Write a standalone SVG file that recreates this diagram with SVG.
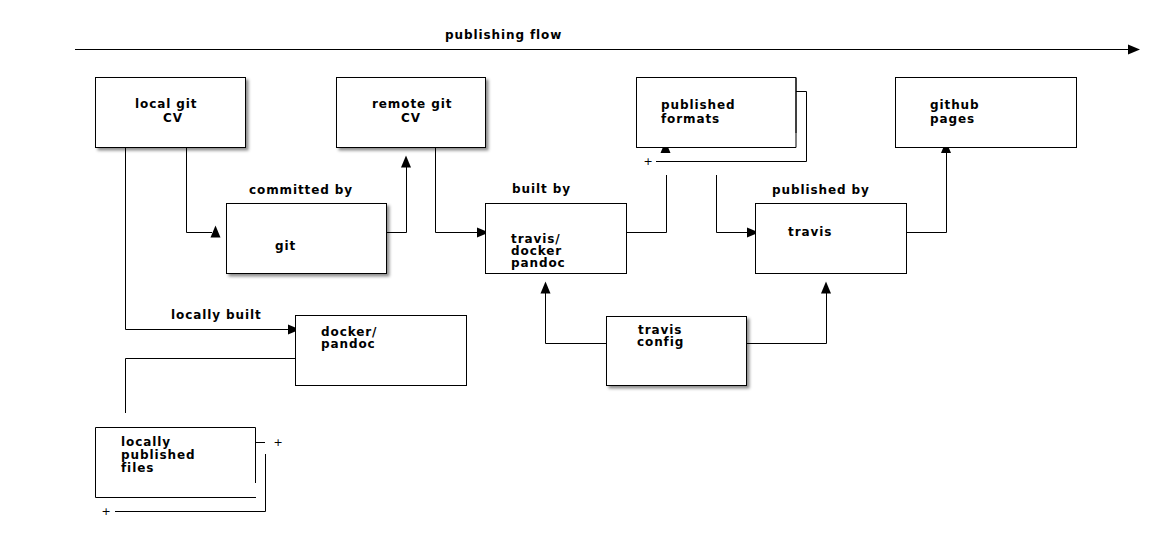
<svg xmlns="http://www.w3.org/2000/svg" xmlns:xlink="http://www.w3.org/1999/xlink" width="1160" height="546" viewBox="0 0 1160 546">
<style>
  .box { fill: #ffffff; stroke: #000000; stroke-width: 1; }
  .ln { fill: none; stroke: #000000; stroke-width: 1; }
  .t { font-family: "DejaVu Sans", "Liberation Sans", sans-serif; font-size: 12px; font-weight: bold; letter-spacing: 0.9px; fill: #000000; }
  .plus { font-family: "DejaVu Sans", "Liberation Sans", sans-serif; font-size: 11px; fill: #000000; text-anchor: middle; }
  .ah { fill: #000000; stroke: none; }
</style>
<defs>
  <filter id="shadow" x="-10%" y="-10%" width="130%" height="130%">
    <feDropShadow dx="2.5" dy="2.5" stdDeviation="1.5" flood-color="#000000" flood-opacity="0.45"/>
  </filter>
  <path id="arrowUp" d="M0,0 L-5,12 L5,12 Z"/>
</defs>
<rect width="1160" height="546" fill="#ffffff"/>

<g id="connectors">
  <path class="ln" d="M75,49.5 H1131"/>
  <use xlink:href="#arrowUp" class="ah" transform="translate(1140,49.5) rotate(90)"/>
  <text class="t" x="445" y="39">publishing flow</text>

  <path class="ln" d="M125.5,147 V329.5 H292"/>
  <use xlink:href="#arrowUp" class="ah" transform="translate(300,329.5) rotate(90)"/>

  <path class="ln" d="M186.5,147 V232.5 H212"/>
  <use xlink:href="#arrowUp" class="ah" transform="translate(215.5,225.5)"/>

  <path class="ln" d="M386,232.5 H406.5 V167"/>
  <use xlink:href="#arrowUp" class="ah" transform="translate(406,155.5)"/>

  <path class="ln" d="M435.5,147 V232.5 H481"/>
  <use xlink:href="#arrowUp" class="ah" transform="translate(489,232.5) rotate(90)"/>

  <path class="ln" d="M626,232.5 H666.5 V175"/>
  <use xlink:href="#arrowUp" class="ah" transform="translate(665.5,141)"/>

  <path class="ln" d="M716.5,175 V232.5 H751"/>
  <use xlink:href="#arrowUp" class="ah" transform="translate(759,232.5) rotate(90)"/>

  <path class="ln" d="M906,232.5 H946.5 V152"/>
  <use xlink:href="#arrowUp" class="ah" transform="translate(946,141)"/>

  <path class="ln" d="M746,343.5 H826.5 V292"/>
  <use xlink:href="#arrowUp" class="ah" transform="translate(826,281.5)"/>

  <path class="ln" d="M606,343.5 H545.5 V292"/>
  <use xlink:href="#arrowUp" class="ah" transform="translate(545.5,281.5)"/>

  <path class="ln" d="M295,358.5 H125.5 V413"/>

  <text class="t" x="249" y="194">committed by</text>
  <text class="t" x="512" y="193">built by</text>
  <text class="t" x="772" y="194">published by</text>
  <text class="t" x="171" y="319">locally built</text>
</g>

<g id="local-git-cv">
  <rect class="box" x="95.5" y="77.5" width="150" height="70" filter="url(#shadow)"/>
  <text class="t" x="135" y="107.5">local git</text>
  <text class="t" x="163" y="121.5">CV</text>
</g>

<g id="remote-git-cv">
  <rect class="box" x="336.5" y="77.5" width="149" height="70" filter="url(#shadow)"/>
  <text class="t" x="372" y="107.5">remote git</text>
  <text class="t" x="401" y="121.5">CV</text>
</g>

<g id="git">
  <rect class="box" x="226.5" y="203.5" width="160" height="70" filter="url(#shadow)"/>
  <text class="t" x="275" y="250">git</text>
</g>

<g id="travis-docker-pandoc">
  <rect class="box" x="485.5" y="203.5" width="141" height="70"/>
  <text class="t" x="511" y="243">travis/</text>
  <text class="t" x="511" y="255">docker</text>
  <text class="t" x="511" y="267">pandoc</text>
</g>

<g id="published-formats">
  <path class="ln" d="M796,91.5 H806.5 V161.5 H656"/>
  <path class="box" d="M636.5,77.5 H796 V147.5 H636.5 Z" stroke="none"/>
  <path class="ln" d="M796,133 V77.5 H636.5 V147.5 H796"/>
  <text class="plus" x="648" y="165">+</text>
  <text class="t" x="661" y="109">published</text>
  <text class="t" x="661" y="123">formats</text>
</g>

<g id="github-pages">
  <rect class="box" x="895.5" y="77.5" width="181" height="70"/>
  <text class="t" x="930" y="109">github</text>
  <text class="t" x="930" y="123">pages</text>
</g>

<g id="travis">
  <rect class="box" x="755.5" y="203.5" width="151" height="70"/>
  <text class="t" x="788" y="236">travis</text>
</g>

<g id="docker-pandoc">
  <rect class="box" x="295.5" y="315.5" width="171" height="70"/>
  <text class="t" x="321" y="336">docker/</text>
  <text class="t" x="321" y="348">pandoc</text>
</g>

<g id="travis-config">
  <rect class="box" x="606.5" y="316.5" width="140" height="69" filter="url(#shadow)"/>
  <text class="t" x="638" y="334">travis</text>
  <text class="t" x="637" y="346">config</text>
</g>

<g id="locally-published-files">
  <path class="ln" d="M265.5,454 V511.5 H115"/>
  <path class="ln" d="M255.5,483 V427.5 H95.5 V497.5 H256"/>
  <path class="ln" d="M256,442.5 H265"/>
  <text class="plus" x="278" y="446">+</text>
  <text class="plus" x="106" y="515">+</text>
  <text class="t" x="121" y="446">locally</text>
  <text class="t" x="121" y="459">published</text>
  <text class="t" x="121" y="472">files</text>
</g>
</svg>
